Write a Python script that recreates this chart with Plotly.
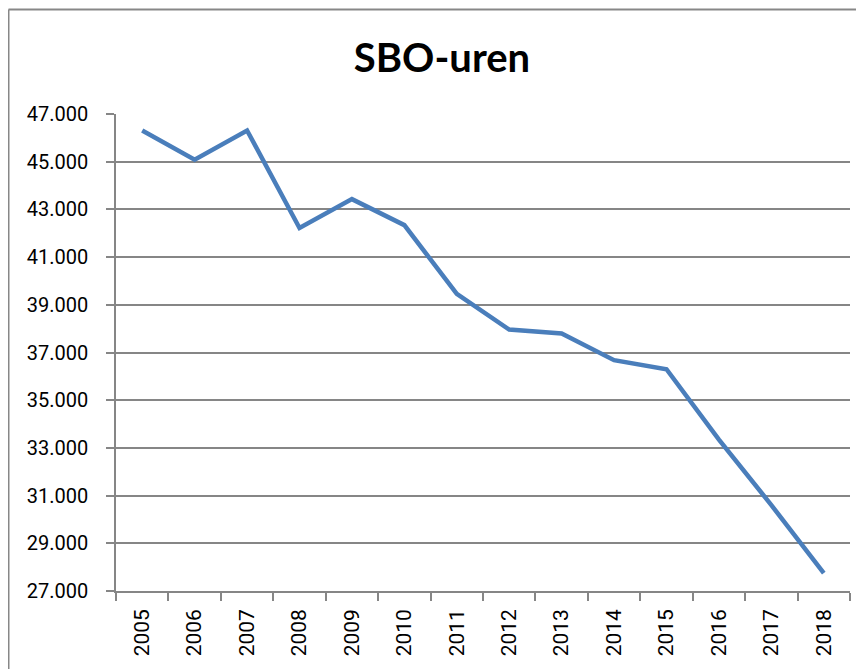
import plotly.graph_objects as go

years = ["2005", "2006", "2007", "2008", "2009", "2010", "2011",
         "2012", "2013", "2014", "2015", "2016", "2017", "2018"]
sbo_uren = [46310, 45080, 46310, 42220, 43430, 42340, 39460,
            37960, 37800, 36680, 36300, 33350, 30600, 27750]
y_ticks = [27000, 29000, 31000, 33000, 35000, 37000, 39000,
           41000, 43000, 45000, 47000]

# page has an 8px body margin; figure is sized to fit the window
OFF = 8
W, H = 864 - OFF, 669 - OFF
L, R, T, B = 116 - OFF, 14, 114 - OFF, 78
pw, ph = W - L - R, H - T - B

def px_x(p):
    return (p - OFF - L) / pw

def px_y(p):
    return (H - B - (p - OFF)) / ph

fig = go.Figure()
fig.add_trace(go.Scatter(
    x=years, y=sbo_uren, mode="lines",
    line=dict(color="#4A7EBB", width=4.5),
    hoverinfo="x+y", showlegend=False,
))

grid = "#868686"
fig.update_layout(
    width=W, height=H,
    margin=dict(l=L, r=R, t=T, b=B, pad=0),
    paper_bgcolor="white", plot_bgcolor="white",
    separators=",.",
    font=dict(family="Roboto, sans-serif", color="black"),
    title=dict(text="<b>SBO-uren</b>", x=(442 - OFF) / W, xanchor="center",
               y=1 - (58 - OFF) / H, yanchor="middle",
               font=dict(size=40, family="Lato, sans-serif", color="black")),
    xaxis=dict(
        type="category", range=[-0.5, len(years) - 0.5],
        tickangle=-90, tickson="boundaries",
        ticks="outside", ticklen=8, tickcolor=grid, tickwidth=1.5,
        showline=True, linecolor=grid, linewidth=1.5,
        showgrid=False, zeroline=False,
        tickfont=dict(size=21, family="Roboto, sans-serif", color="black"),
        ticklabelstandoff=8,
    ),
    yaxis=dict(
        range=[27000, 47000], tickvals=y_ticks, tickformat=",d",
        ticks="outside", ticklen=8, tickcolor=grid, tickwidth=1.5,
        showline=True, linecolor=grid, linewidth=1.5,
        showgrid=True, gridcolor=grid, gridwidth=1.5,
        zeroline=False,
        tickfont=dict(size=20, family="Roboto, sans-serif", color="black"),
        ticklabelstandoff=14,
    ),
    shapes=[
        dict(type="line", xref="paper", yref="paper",
             x0=px_x(8.5), x1=px_x(900), y0=px_y(9.5), y1=px_y(9.5),
             line=dict(color="#878787", width=2)),
        dict(type="line", xref="paper", yref="paper",
             x0=px_x(8.5), x1=px_x(8.5), y0=px_y(9.5), y1=px_y(700),
             line=dict(color="#878787", width=2)),
    ],
)

fig.write_html("out.html")
